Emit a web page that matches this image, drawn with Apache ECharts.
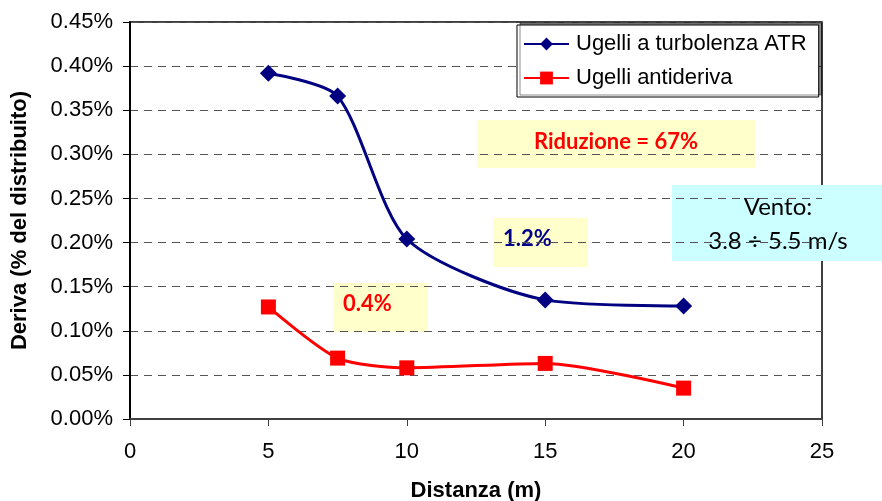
<!DOCTYPE html>
<html>
<head>
<meta charset="utf-8">
<script src="https://cdn.jsdelivr.net/npm/echarts@6/dist/echarts.min.js"></script>
<style>
  html, body { margin: 0; padding: 0; background: #fff; }
  #chart { width: 882px; height: 501px; }
</style>
</head>
<body>
<div id="chart"></div>
<script>
// Distance from the sprayer (m)
const distances = [5, 7.5, 10, 15, 20];
// Drift as % of the applied product
const atrValues = [0.392, 0.366, 0.204, 0.135, 0.128];
const antiderivaValues = [0.127, 0.069, 0.058, 0.063, 0.035];
const seriesNames = ['Ugelli a turbolenza ATR', 'Ugelli antideriva'];

const toPairs = (xs, ys) => xs.map((x, i) => [x, ys[i]]);

const FONT = '"Liberation Sans", Arial, sans-serif';
const NOTE_FONT = 'Lato, "Open Sans", sans-serif';

const chart = echarts.init(document.getElementById('chart'), null, { renderer: 'canvas' });

chart.setOption({
  animation: false,
  backgroundColor: '#ffffff',
  grid: {
    left: 130, right: 60, top: 22, bottom: 82,
    outerBoundsMode: 'none', containLabel: false,
    show: true, borderColor: '#000', borderWidth: 1.5, backgroundColor: 'transparent'
  },
  legend: {
    orient: 'vertical',
    left: 517, top: 25,
    padding: [8, 12, 8, 6],
    backgroundColor: '#fff',
    borderColor: '#000', borderWidth: 1,
    shadowColor: 'rgba(0,0,0,0.45)', shadowOffsetX: 3, shadowOffsetY: -2, shadowBlur: 0,
    itemWidth: 45, itemHeight: 16, itemGap: 12,
    textStyle: { fontFamily: FONT, fontSize: 22, color: '#000', padding: [0, 0, 0, 2] },
    data: seriesNames
  },
  xAxis: {
    type: 'value', min: 0, max: 25, interval: 5,
    name: 'Distanza (m)', nameLocation: 'middle', nameGap: 61,
    nameTextStyle: { fontFamily: FONT, fontSize: 22, fontWeight: 'bold', color: '#000' },
    axisLine: { show: true, onZero: false, lineStyle: { color: '#404040', width: 2 } },
    axisTick: { show: true, inside: false, length: 7, lineStyle: { color: '#404040' } },
    axisLabel: { fontFamily: FONT, fontSize: 22, color: '#000', margin: 22 },
    splitLine: { show: false }
  },
  yAxis: {
    type: 'value', min: 0, max: 0.45, interval: 0.05,
    name: 'Deriva (% del distribuito)', nameLocation: 'middle', nameGap: 99,
    nameTextStyle: { fontFamily: FONT, fontSize: 22, fontWeight: 'bold', color: '#000' },
    axisLine: { show: true, lineStyle: { color: '#000', width: 2 } },
    axisTick: { show: true, inside: false, length: 7, lineStyle: { color: '#000' } },
    axisLabel: {
      fontFamily: FONT, fontSize: 22, color: '#000', margin: 17,
      formatter: v => v.toFixed(2) + '%'
    },
    splitLine: { show: true, lineStyle: { color: '#555', width: 1.2, type: [8, 6] } }
  },
  series: [
    {
      name: seriesNames[0], type: 'line', smooth: 0.25,
      data: toPairs(distances, atrValues),
      symbol: 'diamond', symbolSize: 17,
      lineStyle: { color: '#000080', width: 3 },
      itemStyle: { color: '#000080' },
      z: 3
    },
    {
      name: seriesNames[1], type: 'line', smooth: 0.25,
      data: toPairs(distances, antiderivaValues),
      symbol: 'rect', symbolSize: 15,
      lineStyle: { color: '#ff0000', width: 3 },
      itemStyle: { color: '#ff0000' },
      z: 3
    }
  ],
  graphic: [
    {
      type: 'group', left: 477, top: 120, z: 10,
      children: [
        { type: 'rect', shape: { x: 0, y: 0, width: 278, height: 48 }, style: { fill: '#ffffcc' } },
        { type: 'text', x: 139, y: 22, style: { text: 'Riduzione = 67%', fill: '#ff0000', font: 'bold 22px ' + NOTE_FONT, align: 'center', verticalAlign: 'middle' } }
      ]
    },
    {
      type: 'group', left: 493, top: 218, z: 10,
      children: [
        { type: 'rect', shape: { x: 0, y: 0, width: 95, height: 49 }, style: { fill: '#ffffcc' } },
        { type: 'text', x: 10, y: 21, style: { text: '1.2%', fill: '#00008b', font: 'bold 22px ' + NOTE_FONT, align: 'left', verticalAlign: 'middle' } }
      ]
    },
    {
      type: 'group', left: 333, top: 283, z: 10,
      children: [
        { type: 'rect', shape: { x: 0, y: 0, width: 95, height: 49 }, style: { fill: '#ffffcc' } },
        { type: 'text', x: 10, y: 21, style: { text: '0.4%', fill: '#ff0000', font: 'bold 22px ' + NOTE_FONT, align: 'left', verticalAlign: 'middle' } }
      ]
    },
    {
      type: 'group', left: 672, top: 185, z: 10,
      children: [
        { type: 'rect', shape: { x: 0, y: 0, width: 210, height: 76 }, style: { fill: '#ccffff' } },
        { type: 'text', x: 106, y: 22, style: { text: 'Vento:', fill: '#000', font: '24px ' + NOTE_FONT, align: 'center', verticalAlign: 'middle' } },
        { type: 'text', x: 106, y: 56, style: { text: '3.8 ÷ 5.5 m/s', fill: '#000', font: '24px ' + NOTE_FONT, align: 'center', verticalAlign: 'middle' } }
      ]
    }
  ]
});
</script>
</body>
</html>
